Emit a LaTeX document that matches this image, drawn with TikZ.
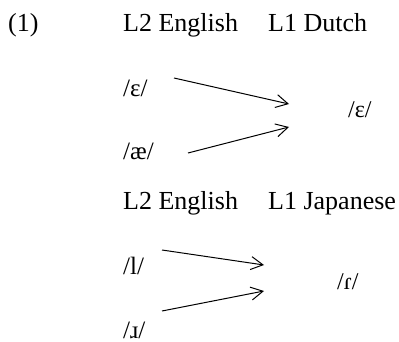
\documentclass[tikz,border=0pt]{standalone}
\usepackage{fontspec}
\setmainfont{Liberation Serif}
\usetikzlibrary{arrows.meta}
\begin{document}
\begin{tikzpicture}[x=1pt,y=-1pt,
  lbl/.style={anchor=base west,inner sep=0pt,font=\fontsize{26}{30}\selectfont},
  ipa/.style={anchor=base west,inner sep=0pt,font=\fontsize{25}{30}\selectfont},
  ipar/.style={anchor=base west,inner sep=0pt,font=\fontsize{24}{28}\selectfont},
  map/.style={-{Straight Barb[length=12pt,width=13pt]},line width=1pt}]
\useasboundingbox (0,0) rectangle (399,342);

% example number
\node[lbl] (num) at (8,32) {(1)};

% English -> Dutch
\node[lbl] (l2a) at (123,32) {L2 English};
\node[lbl] (l1a) at (268,32) {L1 Dutch};
\node[ipa] (eps) at (123,97) {/ɛ/};
\node[ipa] (ae) at (123,160) {/æ/};
\node[ipar] (epsd) at (348,118) {/ɛ/};
\coordinate (a1s) at (174,78);
\coordinate (a1e) at (289,104);
\coordinate (a2s) at (188,153);
\coordinate (a2e) at (289,127);
\draw[map] (a1s) -- (a1e);
\draw[map] (a2s) -- (a2e);

% English -> Japanese
\node[lbl] (l2b) at (123,209) {L2 English};
\node[lbl] (l1b) at (268,209) {L1 Japanese};
\node[ipa] (ell) at (123,274) {/l/};
\node[ipa] (arr) at (123,338) {/ɹ/};
\node[ipar] (tap) at (337,289) {/ɾ/};
\coordinate (b1s) at (162,250);
\coordinate (b1e) at (264,265);
\coordinate (b2s) at (162,311);
\coordinate (b2e) at (264,291);
\draw[map] (b1s) -- (b1e);
\draw[map] (b2s) -- (b2e);
\end{tikzpicture}
\end{document}
